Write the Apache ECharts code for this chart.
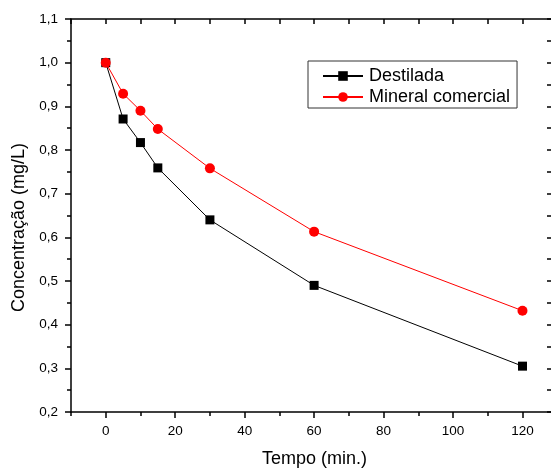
<!DOCTYPE html>
<html>
<head>
<meta charset="utf-8">
<script src="https://cdn.jsdelivr.net/npm/echarts@6/dist/echarts.min.js"></script>
<style>
  html, body { margin: 0; padding: 0; background: #fff; }
  #chart { width: 551px; height: 468px; }
</style>
</head>
<body>
<div id="chart"></div>
<script>
// Sampling times (min.)
const timeMin = [0, 5, 10, 15, 30, 60, 120];
// Concentration (mg/L) for each water type
const destilada = [1.0, 0.871, 0.817, 0.759, 0.64, 0.49, 0.305];
const mineralComercial = [1.0, 0.929, 0.89, 0.848, 0.758, 0.613, 0.432];
// Labelled x ticks and minor x ticks
const xMajorTicks = [0, 20, 40, 60, 80, 100, 120];
const xMinorTicks = [-10, 10, 30, 50, 70, 90, 110];
const seriesNames = ['Destilada', 'Mineral comercial'];

const FONT = '"Liberation Sans", Arial, sans-serif';
const X_MIN = -10, X_MAX = 128.5;

function pairs(xs, ys) { return xs.map((x, i) => [x, ys[i]]); }

const chart = echarts.init(document.getElementById('chart'), null, { renderer: 'canvas' });

const axisLine = { show: true, onZero: false, lineStyle: { color: '#000', width: 1.5 } };

chart.setOption({
  animation: false,
  backgroundColor: '#fff',
  textStyle: { fontFamily: FONT },
  grid: { left: 71, right: -1, top: 19, bottom: 56, outerBoundsMode: 'none', containLabel: false },
  legend: {
    data: seriesNames,
    orient: 'vertical',
    left: 308,
    top: 61,
    itemWidth: 40,
    itemHeight: 12,
    itemGap: 3,
    padding: [6, 7, 2, 14],
    borderColor: '#333',
    borderWidth: 1,
    backgroundColor: '#fff',
    textStyle: { fontSize: 18, color: '#000', fontFamily: FONT, padding: [0, 0, 0, 1] }
  },
  xAxis: [
    {
      type: 'value', position: 'bottom', min: X_MIN, max: X_MAX,
      name: 'Tempo (min.)', nameLocation: 'middle', nameGap: 38,
      nameTextStyle: { fontSize: 18, color: '#000', fontFamily: FONT, padding: [0, 0, 0, 6] },
      axisLine: axisLine,
      axisTick: { show: true, inside: false, length: 6, customValues: xMajorTicks, lineStyle: { color: '#000', width: 1.5 } },
      axisLabel: { show: true, customValues: xMajorTicks, fontSize: 13.5, color: '#000', fontFamily: FONT, margin: 12 },
      splitLine: { show: false }
    },
    {
      type: 'value', position: 'bottom', min: X_MIN, max: X_MAX,
      axisLine: { show: false },
      axisTick: { show: true, inside: false, length: 4, customValues: xMinorTicks, lineStyle: { color: '#000', width: 1.5 } },
      axisLabel: { show: false },
      splitLine: { show: false }
    },
    {
      type: 'value', position: 'top', min: X_MIN, max: X_MAX,
      axisLine: axisLine,
      axisTick: { show: true, inside: true, length: 5, customValues: xMajorTicks.concat(xMinorTicks), lineStyle: { color: '#000', width: 1.5 } },
      axisLabel: { show: false },
      splitLine: { show: false }
    }
  ],
  yAxis: [
    {
      type: 'value', position: 'left', min: 0.2, max: 1.1, interval: 0.1,
      name: 'Concentração (mg/L)', nameLocation: 'middle', nameGap: 37,
      nameTextStyle: { fontSize: 18, color: '#000', fontFamily: FONT, padding: [0, 24, 0, 0] },
      axisLine: axisLine,
      axisTick: { show: true, inside: false, length: 6, lineStyle: { color: '#000', width: 1.5 } },
      minorTick: { show: true, splitNumber: 2, length: 4, lineStyle: { color: '#000', width: 1.5 } },
      axisLabel: {
        fontSize: 13.5, color: '#000', fontFamily: FONT, margin: 13,
        formatter: v => v.toFixed(1).replace('.', ',')
      },
      splitLine: { show: false }
    },
    {
      type: 'value', position: 'right', min: 0.2, max: 1.1, interval: 0.1,
      axisLine: axisLine,
      axisTick: { show: true, inside: true, length: 5, lineStyle: { color: '#000', width: 1.5 } },
      minorTick: { show: true, splitNumber: 2, length: 5, lineStyle: { color: '#000', width: 1.5 } },
      axisLabel: { show: false },
      splitLine: { show: false }
    }
  ],
  series: [
    {
      name: seriesNames[0], type: 'line', xAxisIndex: 0, yAxisIndex: 0,
      data: pairs(timeMin, destilada),
      symbol: 'rect', symbolSize: 9,
      lineStyle: { color: '#000', width: 1 },
      itemStyle: { color: '#000' },
      z: 2
    },
    {
      name: seriesNames[1], type: 'line', xAxisIndex: 0, yAxisIndex: 0,
      data: pairs(timeMin, mineralComercial),
      symbol: 'circle', symbolSize: 10,
      lineStyle: { color: '#ff0000', width: 1 },
      itemStyle: { color: '#ff0000' },
      z: 3
    }
  ]
});
</script>
</body>
</html>
